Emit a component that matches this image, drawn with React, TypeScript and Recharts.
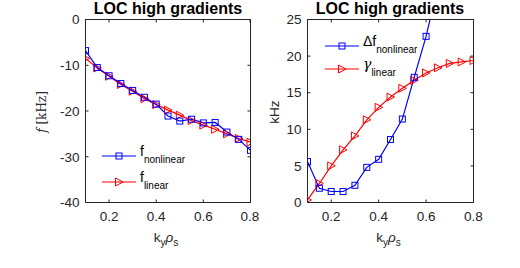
import React from "react";
import { LineChart, Line, XAxis, YAxis, Label } from "recharts";

const kyRho = [0.1, 0.15, 0.2, 0.25, 0.3, 0.35, 0.4, 0.45, 0.5, 0.55, 0.6, 0.65, 0.7, 0.75, 0.8];
const fNonlinear = [-6.8, -10.5, -12.3, -14.0, -15.5, -17.0, -18.5, -21.1, -22.2, -21.8, -22.6, -22.5, -24.6, -26.2, -28.6];
const fLinear = [-8.5, -10.6, -12.4, -14.2, -15.7, -17.3, -18.6, -19.8, -20.9, -22.1, -23.1, -24.0, -25.0, -26.0, -26.8];
const dfNonlinear = [5.6, 1.95, 1.5, 1.5, 2.35, 4.8, 5.9, 8.6, 11.4, 17.1, 22.7, 29.6, null, null, null];
const gammaLinear = [0.35, 2.6, 5.0, 7.2, 9.1, 11.3, 13.0, 14.4, 15.6, 16.7, 17.7, 18.4, 19.0, 19.2, 19.4];

const xTicks = [0.2, 0.4, 0.6, 0.8];
const xDomain = [0.1, 0.8];
const leftYTicks = [-40, -30, -20, -10, 0];
const rightYTicks = [0, 5, 10, 15, 20, 25];

const leftData = kyRho.map((k, i) => ({ k, nl: fNonlinear[i], lin: fLinear[i] }));
const rightData = kyRho.map((k, i) => ({ k, nl: dfNonlinear[i], lin: gammaLinear[i] }));

const AXIS = "#262626";
const BLUE = "#0000ff";
const RED = "#ff0000";
const FONT = "'Liberation Sans', Arial, sans-serif";
const TICK_FONT = 13.5;
const PLOT_TOP = 19.5;
const PLOT_BOTTOM = 202.5;

const square = (p: any) =>
  p.cx == null || p.cy == null || p.cy < 15 ? <g key={p.index} /> : (
    <rect key={p.index} x={p.cx - 3} y={p.cy - 3} width={6} height={6} fill="none" stroke={BLUE} strokeWidth={1} />
  );

const triangle = (p: any) =>
  p.cx == null || p.cy == null ? <g key={p.index} /> : (
    <polygon
      key={p.index}
      points={`${p.cx - 3.5},${p.cy - 4} ${p.cx + 4},${p.cy} ${p.cx - 3.5},${p.cy + 4}`}
      fill="none"
      stroke={RED}
      strokeWidth={1}
    />
  );

// bottom tick label, plus the mirrored tick on the top edge of the box
const xTick = (p: any) => (
  <g>
    <path d={`M${p.x},${PLOT_TOP}v3`} stroke={AXIS} strokeWidth={1} fill="none" />
    <text x={p.x} y={p.y} dy="0.71em" textAnchor="middle" fill={AXIS} fontSize={TICK_FONT} fontFamily={FONT}>
      {p.payload.value}
    </text>
  </g>
);

// left tick label, plus the mirrored tick on the right edge of the box
const makeYTick = (right: number) => (p: any) => (
  <g>
    <path d={`M${right},${p.y}h-3`} stroke={AXIS} strokeWidth={1} fill="none" />
    <text x={p.x} y={p.y} dy="0.355em" textAnchor="end" fill={AXIS} fontSize={TICK_FONT} fontFamily={FONT}>
      {p.payload.value}
    </text>
  </g>
);

function XLabel({ viewBox }: any) {
  return (
    <text x={viewBox.x + viewBox.width / 2 - 2} y={242} textAnchor="middle" fontFamily={FONT} fontSize={TICK_FONT} fill={AXIS}>
      <tspan>k</tspan>
      <tspan dy={4} fontSize={10}>y</tspan>
      <tspan dy={-4} fontStyle="italic">ρ</tspan>
      <tspan dy={4} fontSize={10}>s</tspan>
    </text>
  );
}

function LegendBox({ left, top, items }: { left: number; top: number; items: { color: string; marker: "sq" | "tri"; main: React.ReactNode; sub: string; gap: number }[] }) {
  return (
    <div style={{ position: "absolute", left, top, fontFamily: FONT, color: "#000" }}>
      {items.map((it, i) => (
        <div key={i} style={{ position: "absolute", left: 0, top: it.gap, width: 150, height: 20 }}>
          <svg width={36} height={12} style={{ position: "absolute", left: 0, top: 4 }}>
            <line x1={0} y1={6} x2={34} y2={6} stroke={it.color} strokeWidth={1.2} />
            {it.marker === "sq" ? (
              <rect x={14} y={3} width={6} height={6} fill="none" stroke={it.color} />
            ) : (
              <polygon points="13.5,2 21,6 13.5,10" fill="none" stroke={it.color} />
            )}
          </svg>
          <span style={{ position: "absolute", left: 38, top: -3, fontSize: 14, whiteSpace: "nowrap" }}>
            {it.main}
            <sub style={{ fontSize: 10, verticalAlign: "-7px" }}>{it.sub}</sub>
          </span>
        </div>
      ))}
    </div>
  );
}

function Title({ center }: { center: number }) {
  return (
    <div
      style={{
        position: "absolute",
        left: center - 100,
        width: 200,
        top: 0,
        textAlign: "center",
        fontFamily: FONT,
        fontWeight: "bold",
        fontSize: 16,
        color: "#000",
        lineHeight: "18px",
      }}
    >
      LOC high gradients
    </div>
  );
}

// top and right edges of the axes box
function Frame({ left, right }: { left: number; right: number }) {
  return (
    <div
      style={{
        position: "absolute",
        left,
        top: PLOT_TOP - 0.5,
        width: right - left,
        height: PLOT_BOTTOM - PLOT_TOP,
        borderTop: `1px solid ${AXIS}`,
        borderRight: `1px solid ${AXIS}`,
        pointerEvents: "none",
      }}
    />
  );
}

function Panel({ data, domain, yTicks, left, margin, yWidth, yLabel }: any) {
  const plotRight = 260 - margin.right;
  return (
    <div style={{ position: "absolute", left, top: 0 }}>
      <LineChart width={260} height={268} data={data} margin={margin}>
        <XAxis
          dataKey="k"
          type="number"
          domain={xDomain}
          ticks={xTicks}
          allowDataOverflow
          height={30}
          stroke={AXIS}
          tickSize={-3}
          tickMargin={12}
          tick={xTick}
        >
          <Label content={XLabel} />
        </XAxis>
        <YAxis
          type="number"
          domain={domain}
          ticks={yTicks}
          allowDataOverflow
          width={yWidth}
          stroke={AXIS}
          tickSize={-3}
          tickMargin={9}
          tick={makeYTick(plotRight)}
        >
          {yLabel}
        </YAxis>
        <Line dataKey="lin" stroke={RED} strokeWidth={1.2} dot={triangle} isAnimationActive={false} />
        <Line dataKey="nl" stroke={BLUE} strokeWidth={1.2} dot={square} isAnimationActive={false} />
      </LineChart>
    </div>
  );
}

const leftYLabel = (
  <Label
    content={() => (
      <text transform="translate(46,112) rotate(-90)" textAnchor="middle" fontFamily="'DejaVu Serif', 'Liberation Serif', serif" fontSize={12} fill={AXIS}>
        <tspan fontStyle="italic">f</tspan>
        <tspan> [kHz]</tspan>
      </text>
    )}
  />
);

const rightYLabel = (
  <Label
    content={() => (
      <text transform="translate(19,112) rotate(-90)" textAnchor="middle" fontFamily={FONT} fontSize={TICK_FONT} fill={AXIS}>
        kHz
      </text>
    )}
  />
);

export default function App() {
  return (
    <div style={{ position: "absolute", left: 0, top: 0, width: 520, height: 268, background: "#fff", overflow: "hidden" }}>
      <Panel
        data={leftData}
        domain={[-40, 0]}
        yTicks={leftYTicks}
        left={0}
        yWidth={40}
        margin={{ top: PLOT_TOP, right: 9.5, bottom: 268 - PLOT_BOTTOM - 30, left: 45.5 }}
        yLabel={leftYLabel}
      />
      <Panel
        data={rightData}
        domain={[0, 25]}
        yTicks={rightYTicks}
        left={260}
        yWidth={30}
        margin={{ top: PLOT_TOP, right: 46.5, bottom: 268 - PLOT_BOTTOM - 30, left: 17.5 }}
        yLabel={rightYLabel}
      />
      <Frame left={85} right={250} />
      <Frame left={307} right={473} />
      <Title center={168} />
      <Title center={390} />
      <LegendBox
        left={102}
        top={146}
        items={[
          { color: BLUE, marker: "sq", main: "f", sub: "nonlinear", gap: 0 },
          { color: RED, marker: "tri", main: "f", sub: "linear", gap: 26 },
        ]}
      />
      <LegendBox
        left={325}
        top={36}
        items={[
          { color: BLUE, marker: "sq", main: "Δf", sub: "nonlinear", gap: 0 },
          { color: RED, marker: "tri", main: <span style={{ fontFamily: "'DejaVu Serif', serif", fontStyle: "italic" }}>γ</span>, sub: "linear", gap: 23 },
        ]}
      />
    </div>
  );
}
